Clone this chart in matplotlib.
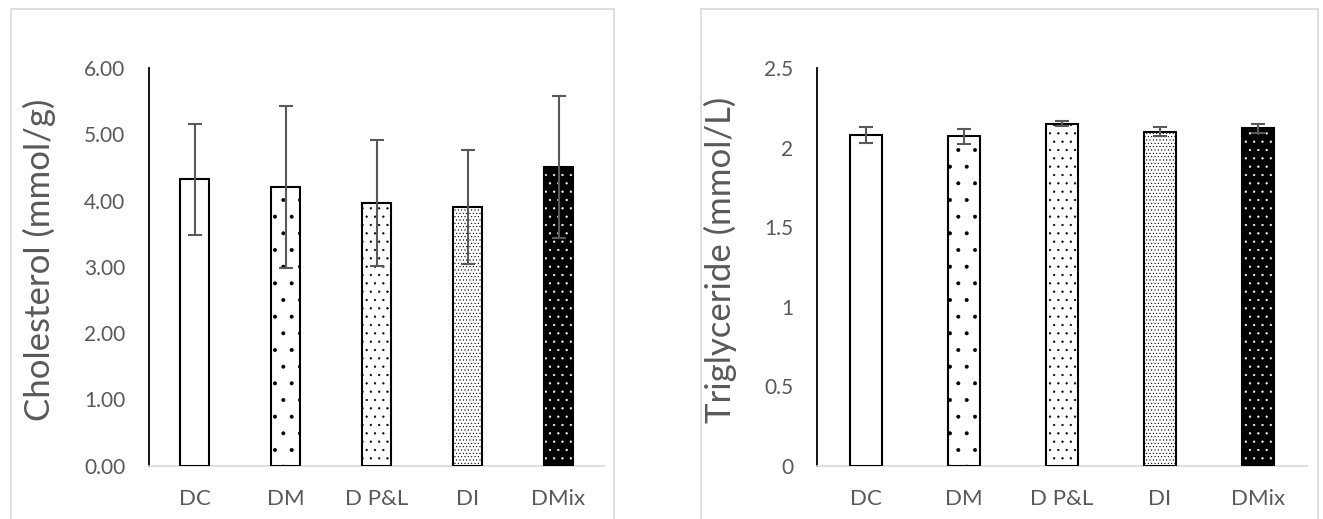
import matplotlib
matplotlib.use('Agg')
import matplotlib.pyplot as plt
from matplotlib.patches import Rectangle

plt.rcParams['font.family'] = ['Lato', 'DejaVu Sans']
plt.rcParams['hatch.linewidth'] = 0.4

# data
groups = ['DC', 'DM', 'D P&L', 'DI', 'DMix']
chol = [4.32, 4.21, 3.96, 3.91, 4.51]
chol_err = [0.84, 1.22, 0.95, 0.86, 1.07]
tg = [2.08, 2.07, 2.15, 2.10, 2.12]
tg_err = [0.05, 0.045, 0.015, 0.03, 0.03]
chol_ticks = [0, 1, 2, 3, 4, 5, 6]
tg_ticks = [0, 0.5, 1, 1.5, 2, 2.5]

# fill styles per group: (face, hatch, hatch colour)
styles = [('white', '', 'black'),
          ('white', '.', 'black'),
          ('white', '..', 'black'),
          ('white', '.....', 'black'),
          ('black', '..', 'white')]

grey = '#595959'
W, H = 1323, 519

fig = plt.figure(figsize=(W / 100, H / 100), dpi=100)

# chart frames (Excel style)
for x0, x1 in [(11, 614), (701, 1318)]:
    fig.patches.append(Rectangle((x0 / W, -0.05), (x1 - x0) / W, 1 - 9 / H + 0.05,
                                 transform=fig.transFigure, fill=False,
                                 edgecolor='#d9d9d9', lw=1.2))


def draw(ax, vals, errs, ticks, fmt, ylabel):
    x = range(len(groups))
    for i, (v, (fc, hatch, hc)) in enumerate(zip(vals, styles)):
        ax.bar(i, v, width=0.32, color=fc, edgecolor=hc, hatch=hatch, lw=0, zorder=2)
        ax.bar(i, v, width=0.32, fill=False, edgecolor='black', lw=1.5, zorder=3)
    ax.errorbar(x, vals, yerr=errs, fmt='none', ecolor=grey, elinewidth=1.5,
                capsize=5, capthick=1.5, zorder=4)
    ax.set_xlim(-0.5, len(groups) - 0.5)
    ax.set_ylim(ticks[0], ticks[-1])
    ax.set_yticks(ticks)
    ax.set_yticklabels([fmt.format(t) for t in ticks])
    ax.set_xticks(list(x))
    ax.set_xticklabels(groups)
    ax.tick_params(axis='y', length=0, pad=17, labelsize=15, labelcolor=grey)
    ax.tick_params(axis='x', length=0, pad=17, labelsize=16, labelcolor=grey)
    for s in ['top', 'right']:
        ax.spines[s].set_visible(False)
    ax.spines['left'].set_color('black')
    ax.spines['left'].set_linewidth(1.3)
    ax.spines['bottom'].set_color('#d9d9d9')
    ax.spines['bottom'].set_linewidth(1.2)
    ax.set_ylabel(ylabel, fontsize=25, color=grey)
    ax.set_facecolor('none')


bottom = 1 - 465.7 / H
height = (465.7 - 68) / H

ax1 = fig.add_axes([149 / W, bottom, (604 - 149) / W, height])
draw(ax1, chol, chol_err, chol_ticks, '{:.2f}', 'Cholesterol (mmol/g)')
ax1.yaxis.set_label_coords(56 / W, 0.5, transform=fig.transFigure)

ax2 = fig.add_axes([817 / W, bottom, (1307 - 817) / W, height])
draw(ax2, tg, tg_err, tg_ticks, '{:g}', 'Triglyceride (mmol/L)')
ax2.yaxis.set_label_coords(737 / W, 0.5, transform=fig.transFigure)

fig.savefig('out.png', dpi=100)
